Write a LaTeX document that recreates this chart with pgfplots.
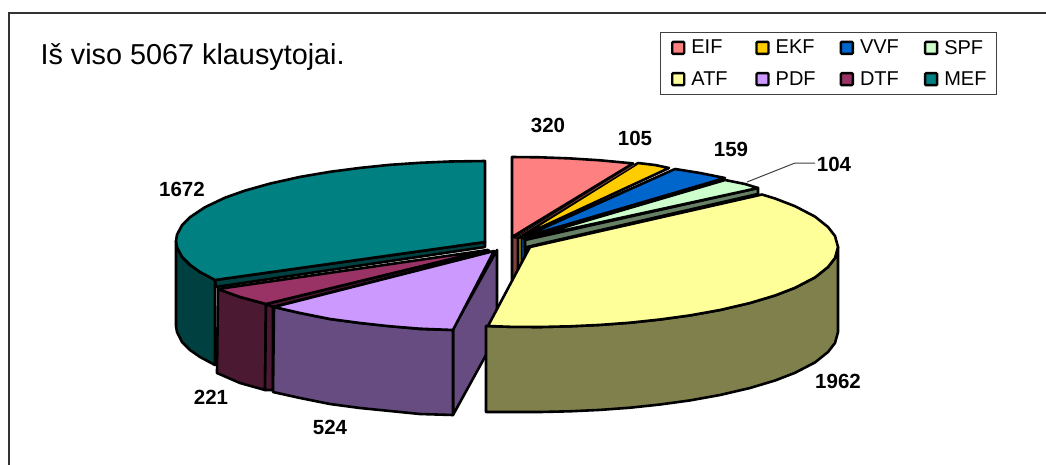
\documentclass[border=0pt]{standalone}
\usepackage{fontspec}
\setmainfont{Liberation Sans}
\usepackage{pgfplots}
\pgfplotsset{compat=1.18}

\definecolor{eif}{HTML}{FF8080}
\definecolor{ekf}{HTML}{FFCC00}
\definecolor{vvf}{HTML}{0066CC}
\definecolor{spf}{HTML}{CCFFCC}
\definecolor{atf}{HTML}{FFFF99}
\definecolor{pdf}{HTML}{CC99FF}
\definecolor{dtf}{HTML}{993366}
\definecolor{mef}{HTML}{008080}
\definecolor{eifd}{HTML}{804040}
\definecolor{ekfd}{HTML}{806600}
\definecolor{vvfd}{HTML}{003366}
\definecolor{spfd}{HTML}{668066}
\definecolor{atfd}{HTML}{80804D}
\definecolor{pdfd}{HTML}{664C80}
\definecolor{dtfd}{HTML}{4C1933}
\definecolor{mefd}{HTML}{004040}

\pgfplotsset{
  slice/.style={fill=#1, draw=black, line width=2.6pt, line join=round, forget plot},
  swatch/.style={legend image code/.code={
    \path (-3pt,0pt);
    \draw[fill=#1, draw=black, line width=2.4pt, rounded corners=1pt] (0pt,-6pt) rectangle (12pt,6pt);}},
}
\newcommand{\lgd}[1]{\makebox[54.5pt][l]{#1}}
\newcommand{\val}{\fontsize{20.5}{20.5}\selectfont\bfseries}

\begin{document}
\begin{tikzpicture}
\begin{axis}[
  scale only axis,
  width=1046pt, height=464pt,
  xmin=0, xmax=1046, ymin=0, ymax=464,
  y dir=reverse,
  hide axis,
  legend columns=4,
  legend cell align=left,
  legend style={
    at={(axis cs:660,32)}, anchor=north west,
    draw=black!75, line width=1.2pt, fill=white,
    font=\fontsize{20}{20}\selectfont,
    inner xsep=8pt, inner ysep=5.5pt,
    row sep=12pt,
    /tikz/every odd column/.style={column sep=4pt},
    /tikz/every even column/.style={column sep=5pt},
  },
]
% legend entries
\addlegendimage{swatch=eif}\addlegendentry{\lgd{EIF}}
\addlegendimage{swatch=ekf}\addlegendentry{\lgd{EKF}}
\addlegendimage{swatch=vvf}\addlegendentry{\lgd{VVF}}
\addlegendimage{swatch=spf}\addlegendentry{SPF}
\addlegendimage{swatch=atf}\addlegendentry{\lgd{ATF}}
\addlegendimage{swatch=pdf}\addlegendentry{\lgd{PDF}}
\addlegendimage{swatch=dtf}\addlegendentry{\lgd{DTF}}
\addlegendimage{swatch=mef}\addlegendentry{MEF}

% chart frame
\addplot[draw=black!80, line width=2pt, forget plot] coordinates {(9,470) (9,13) (1050,13)};

% --- back group: side faces
\addplot[slice=eifd] coordinates {(512,237) (518,235) (518,280) (512,280)} --cycle;
\addplot[slice=ekfd, line width=1pt] coordinates {(518,237) (521,237) (521,275) (518,275)} --cycle;
\addplot[slice=vvfd, line width=1pt] coordinates {(521,238) (525,238) (525,275) (521,275)} --cycle;
\addplot[slice=spfd] coordinates {(525,240) (758,188) (758,194) (527,247) (526,270)} --cycle;

% SPF 104
\addplot[slice=spf] coordinates {(524,239) (725,180) (745,184) (758,188)} --cycle;
% VVF 159
\addplot[slice=vvf] coordinates {(521,238) (675,169) (700,173) (725,178)} --cycle;
% EKF 105
\addplot[slice=ekf] coordinates {(518,238) (638,163) (655,165) (669,168)} --cycle;
% EIF 320
\addplot[slice=eifd, line width=1pt] coordinates {(514,238) (633,164) (636,165) (517,238)} --cycle;
\addplot[slice=eif] coordinates {(512,237) (512,157) (540,157.3) (570,158.4) (600,160.3) (633,163.4)} --cycle;

% MEF 1672
\addplot[slice=mefd] coordinates {(176,241) (177,247) (182,257) (190,265) (200,272) (215,280) (215,365) (200,357) (190,350) (182,342) (177,332) (176,326)} --cycle;
\addplot[slice=mefd] coordinates {(215,280) (485,242) (485,247) (216,287)} --cycle;
\addplot[slice=mef] coordinates {(485,242) (485,161) (450,161.5) (420,162.8) (390,164.8) (360,167.9) (330,171.8) (300,176.9) (270,183.6) (245,190.6) (225,197.7) (205,207.2) (190,217.2) (182,225.3) (177,234.6) (176,241) (177,247.4) (182,256.7) (190,264.8) (200,272) (215,280)} --cycle;

% DTF 221
\addplot[slice=dtfd] coordinates {(218,289) (240,297) (266,304) (265,390) (240,383) (217,373)} --cycle;
\addplot[slice=dtfd] coordinates {(266,304) (273,307) (490,252) (488,250)} --cycle;
\addplot[slice=dtfd] coordinates {(266,304) (273,307) (273,390) (265,390)} --cycle;
\addplot[slice=dtf] coordinates {(218,289) (240,297) (266,304) (488,250)} --cycle;

% PDF 524
\addplot[slice=pdfd] coordinates {(453,329) (497,250) (497,335) (453,415)} --cycle;
\addplot[slice=pdfd] coordinates {(274,307) (300,313) (330,319) (360,323) (390,326) (420,329) (453,330) (453,415) (420,414) (390,411) (360,408) (330,404) (300,398) (273,392)} --cycle;
\addplot[slice=pdf] coordinates {(494,251) (274,307) (300,313) (330,319) (360,323) (390,326.3) (420,328.7) (453,330)} --cycle;

% ATF 1962
\addplot[slice=atfd] coordinates {(486,326) (510,326.8) (540,327) (570,326.3) (600,324.9) (630,322.7) (660,319.5) (690,315.4) (720,310) (750,303) (775,295.5) (795,287.8) (815,277.4) (828,267) (835,258) (838,247) (838,332) (835,343) (828,352) (815,362.4) (795,372.8) (775,380.5) (750,388) (720,395) (690,400.4) (660,404.5) (630,407.7) (600,409.9) (570,411.3) (540,412) (510,412) (486,412)} --cycle;
\addplot[slice=atf] coordinates {(530,247) (762,194.5) (775,198.5) (795,206.2) (815,216.6) (828,227) (835,236) (838,247) (835,258) (828,267) (815,277.4) (795,287.8) (775,295.5) (750,303) (720,310) (690,315.4) (660,319.5) (630,322.7) (600,324.9) (570,326.3) (540,327) (510,326.8) (488,326)} --cycle;

% leader line to the 104 label
\addplot[draw=black!75, line width=1pt, forget plot] coordinates {(747,182) (795,163) (815,163)};

% texts
\node[anchor=west, font=\fontsize{28.8}{28.8}\selectfont] at (axis cs:37,57) {Iš viso 5067 klausytojai.};
\node[font=\val] at (axis cs:548,125) {320};
\node[font=\val] at (axis cs:635,138) {105};
\node[font=\val] at (axis cs:731,149) {159};
\node[font=\val] at (axis cs:834,164) {104};
\node[font=\val] at (axis cs:182,189) {1672};
\node[font=\val] at (axis cs:838,381) {1962};
\node[font=\val] at (axis cs:211,397) {221};
\node[font=\val] at (axis cs:330,427) {524};
\end{axis}
\pgfresetboundingbox
\path (current axis.south west) rectangle (current axis.north east);
\end{tikzpicture}
\end{document}
